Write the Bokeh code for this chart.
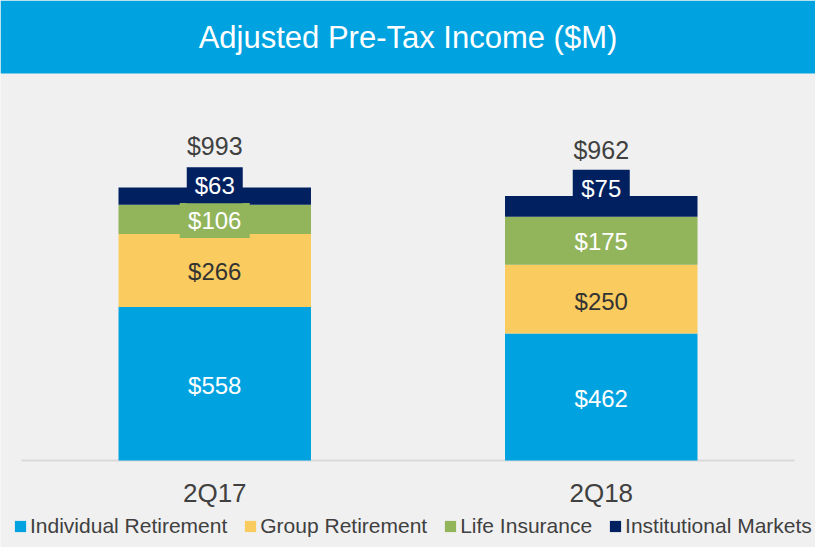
import numpy as np
from bokeh.plotting import figure
from bokeh.models import ColumnDataSource, FactorRange, Range1d, BoxAnnotation, Legend, LegendItem
from bokeh.core.properties import value
from bokeh.embed import file_html
from bokeh.resources import INLINE

# ---------------- data ----------------
quarters = ["2Q17", "2Q18"]
individual_retirement = [558, 462]
group_retirement = [266, 250]
life_insurance = [106, 175]
institutional_markets = [63, 75]
segment_names = ["Individual Retirement", "Group Retirement", "Life Insurance", "Institutional Markets"]
title_text = "Adjusted Pre-Tax Income ($M)"

# ---------------- styles / layout ----------------
W, H = 815, 547
BASE_PX = 460            # baseline, px from top of figure
K = 0.2749               # px per $M
FONT = "Liberation Sans"
BLUE = "#00A3E0"
YELLOW = "#FACB5E"
GREEN = "#92B55C"
NAVY = "#002060"
BG = "#F0F0F0"
DARK = "#404040"
colors = [BLUE, YELLOW, GREEN, NAVY]
label_colors = ["white", "#333333", "white", "white"]
# per-label vertical shift in px (positive = down), [segment][quarter]
label_shift_px = [[1.7, 1.5], [1.0, 2.0], [1.2, 1.0], [-11.0, -17.6]]
total_shift_px = [-41.5, -46.0]
# boxes behind some labels: (segment index, quarter index, width px, height px)
label_boxes = [(2, 0, 70, 35), (3, 0, 56, 36), (3, 1, 57, 38)]


def y_at(px_from_top):
    return (BASE_PX - px_from_top) / K


x_range = FactorRange(*quarters, range_padding=0.0543, range_padding_units="absolute",
                      factor_padding=0)
y_range = Range1d(y_at(H), y_at(0))

p = figure(width=W, height=H, x_range=x_range, y_range=y_range,
           output_backend="svg", toolbar_location=None, min_border=0,
           x_axis_location=None, y_axis_location=None,
           background_fill_color=BG, border_fill_color=BG, outline_line_color=None)
p.grid.grid_line_color = None

# title bar
p.add_layout(BoxAnnotation(bottom=y_at(73), fill_color=BLUE, fill_alpha=1.0, line_color=None,
                           level="underlay"))
p.text(x=[len(quarters) / 2], y=[y_at(37)], text=[title_text], text_align="center",
       text_baseline="middle", text_color="white", text_font=value(FONT),
       text_font_size="31px")

# baseline
p.segment(x0=[0], y0=[0], x1=[len(quarters)], y1=[0], line_color="#D9D9D9", line_width=2)

# stacked bars
keys = ["ind", "grp", "life", "inst"]
source = ColumnDataSource(dict(quarter=quarters, ind=individual_retirement, grp=group_retirement,
                               life=life_insurance, inst=institutional_markets))
renderers = p.vbar_stack(keys, x="quarter", width=0.498, color=colors, line_color=None,
                         source=source)

stack = np.array([individual_retirement, group_retirement, life_insurance,
                  institutional_markets], dtype=float)
tops = stack.cumsum(axis=0)
centers = tops - stack / 2
shift = np.array(label_shift_px)
label_y = centers - shift / K

# label boxes
bx, by, bw, bh, bc = [], [], [], [], []
for s, q, w, h in label_boxes:
    bx.append(quarters[q]); by.append(label_y[s, q]); bw.append(w); bh.append(h); bc.append(colors[s])
p.rect(x=bx, y=by, width=bw, height=bh, width_units="screen", height_units="screen",
       fill_color=bc, line_color=None)

# segment labels
lx, ly, lt, lc = [], [], [], []
for s in range(len(keys)):
    for q in range(len(quarters)):
        lx.append(quarters[q]); ly.append(label_y[s, q])
        lt.append("$" + str(int(stack[s, q]))); lc.append(label_colors[s])
p.text(x=lx, y=ly, text=lt, text_color=lc, text_align="center", text_baseline="middle",
       text_font=value(FONT), text_font_size="24px")

# totals
totals = tops[-1]
p.text(x=quarters, y=list(totals - np.array(total_shift_px) / K),
       text=["$" + str(int(t)) for t in totals], text_color=DARK, text_align="center",
       text_baseline="middle", text_font=value(FONT), text_font_size="25px")

# category labels
p.text(x=quarters, y=[-32.5 / K] * len(quarters), text=quarters, text_color=DARK,
       text_align="center", text_baseline="middle", text_font=value(FONT),
       text_font_size="26px")

# legend
legend = Legend(items=[LegendItem(label=n, renderers=[r]) for n, r in zip(segment_names, renderers)],
                orientation="horizontal", location=(13, 9), glyph_width=14, glyph_height=14,
                label_standoff=3, spacing=16, padding=0, margin=0,
                background_fill_alpha=0, border_line_color=None,
                label_text_font=FONT, label_text_font_size="21px", label_text_color=DARK)
p.add_layout(legend)

open("out.html", "w").write(file_html(p, INLINE))
